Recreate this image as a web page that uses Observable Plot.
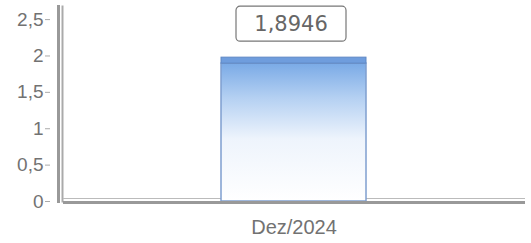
<!DOCTYPE html>
<html>
<head>
<meta charset="utf-8">
<script src="https://cdn.jsdelivr.net/npm/d3@7"></script>
<script src="https://cdn.jsdelivr.net/npm/@observablehq/plot@0.6"></script>
<style>
html,body{margin:0;padding:0;background:#fff;}
</style>
</head>
<body>
<div id="chart"></div>
<script>
const categories = ["Dez/2024"];
const values = [1.8946];
const yTicks = [0, 0.5, 1, 1.5, 2, 2.5];

const data = categories.map((c, i) => ({cat: c, v: values[i]}));
const fmt = v => String(v).replace(".", ",");

const plot = Plot.plot({
  width: 531,
  height: 243,
  marginLeft: 63,
  marginRight: 6,
  marginTop: 6,
  marginBottom: 42,
  style: {fontFamily: "'Liberation Sans', Arial, sans-serif", background: "#fff", color: "#777"},
  x: {domain: categories, padding: 0.52, label: null},
  y: {domain: [0, 2.68], label: null},
  marks: [
    Plot.axisY({ticks: yTicks, tickFormat: fmt, tickSize: 5, tickPadding: 2, dx: -13, fontSize: 19, stroke: "#aaa", fill: "#727272"}),
    Plot.axisX({tickSize: 0, tickPadding: 18, fontSize: 20, fill: "#727272"}),
    Plot.frame({anchor: "left", stroke: "#999", strokeWidth: 3, dx: -5}),
    Plot.frame({anchor: "left", stroke: "#aaa", strokeWidth: 2, dx: -1}),
    Plot.ruleY([0], {stroke: "#bbb", strokeWidth: 1, dy: -3}),
    Plot.barY(data, {x: "cat", y: "v", fill: "url(#barGrad)", stroke: "#7f9fcf", strokeWidth: 1.5}),
    Plot.barY(data, {x: "cat", y1: "v", y2: "v", insetTop: -6, fill: "#6f9ddd", stroke: "#5f88c4", strokeWidth: 1}),
    Plot.ruleY([0], {stroke: "#999", strokeWidth: 3, dy: 1}),
    Plot.barY(data, {x: "cat", y1: "v", y2: "v", insetTop: -57, insetBottom: 22, insetLeft: 15, insetRight: 20, rx: 4, fill: "#fff", stroke: "#777", strokeWidth: 1.2}),
    Plot.text(data, {x: "cat", y: "v", text: d => fmt(d.v), dy: -39, dx: -3, fontSize: 21, fill: "#666", fontFamily: "'DejaVu Sans', sans-serif"})
  ]
});

document.getElementById("chart").appendChild(plot);
const svg = d3.select(plot);
const defs = svg.insert("defs", ":first-child");
const g = defs.append("linearGradient").attr("id", "barGrad").attr("x1", 0).attr("y1", 0).attr("x2", 0).attr("y2", 1);
g.append("stop").attr("offset", "0%").attr("stop-color", "#7aaae6");
g.append("stop").attr("offset", "25%").attr("stop-color", "#b4d0f2");
g.append("stop").attr("offset", "55%").attr("stop-color", "#eef4fc");
g.append("stop").attr("offset", "100%").attr("stop-color", "#ffffff");
</script>
</body>
</html>
